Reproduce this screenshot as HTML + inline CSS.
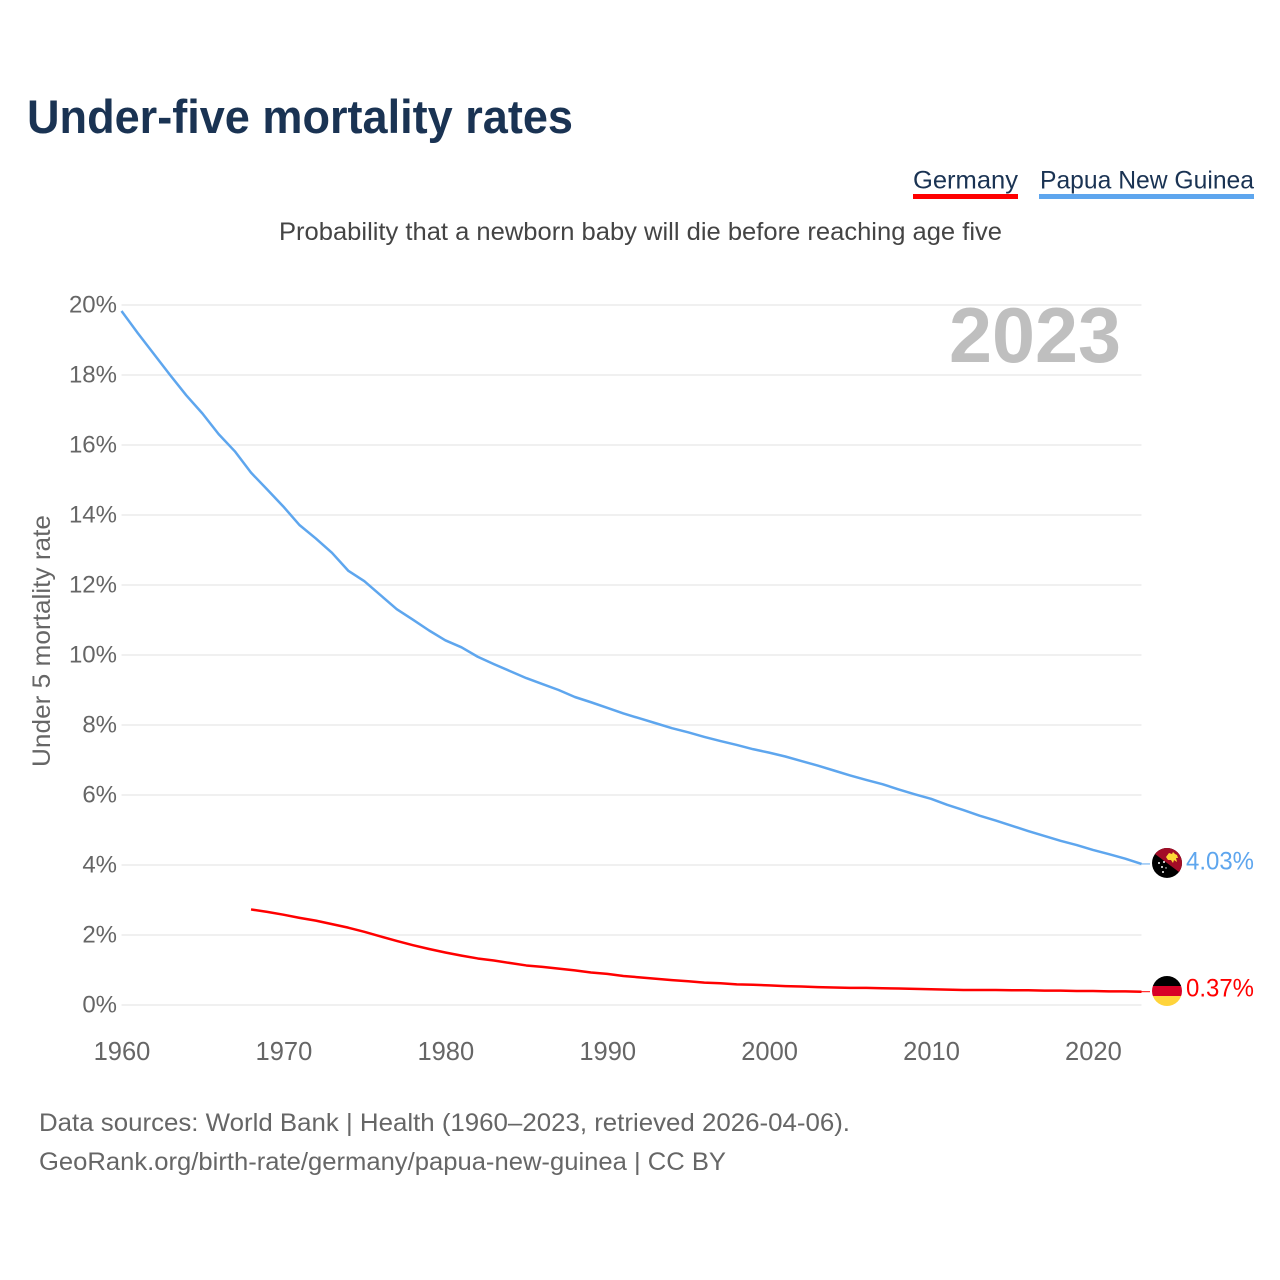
<!DOCTYPE html>
<html lang="en">
<head>
<meta charset="utf-8">
<title>Under-five mortality rates</title>
<style>
html,body{margin:0;padding:0;background:#fff;}
svg{display:block;font-family:"Liberation Sans",sans-serif;}
</style>
</head>
<body>
<svg id="chart" xmlns="http://www.w3.org/2000/svg" width="1280" height="1280" viewBox="0 0 1280 1280">
  <text x="27" y="133" font-size="47" font-weight="700" fill="#1a3353" textLength="546" lengthAdjust="spacingAndGlyphs">Under-five mortality rates</text>
  <g>
    <text x="913" y="188.5" font-size="25" fill="#1a3353" textLength="105" lengthAdjust="spacingAndGlyphs">Germany</text>
    <rect x="913" y="194" width="105" height="5" fill="#ff0000"/>
  </g>
  <g>
    <text x="1040" y="188.5" font-size="25" fill="#1a3353" textLength="214" lengthAdjust="spacingAndGlyphs">Papua New Guinea</text>
    <rect x="1039" y="194" width="215" height="5" fill="#5ea6ee"/>
  </g>
  <text x="279" y="240" font-size="25" fill="#444444" textLength="723" lengthAdjust="spacingAndGlyphs">Probability that a newborn baby will die before reaching age five</text>
  <text transform="translate(50,767) rotate(-90)" font-size="25" fill="#666666" textLength="252" lengthAdjust="spacingAndGlyphs">Under 5 mortality rate</text>
  <g id="grid"></g>
  <g id="yticks"></g>
  <g id="xticks"></g>
  <text x="949" y="362" font-size="78" font-weight="700" fill="#bfbfbf" textLength="172" lengthAdjust="spacingAndGlyphs">2023</text>
  <g id="series"></g>
  <defs>
    <clipPath id="flagClip"><circle cx="0" cy="0" r="15"/></clipPath>
  </defs>
  <g id="flagPng">
    <g clip-path="url(#flagClip)">
      <rect x="-15" y="-15" width="30" height="30" fill="#000000"/>
      <polygon points="-20,-15 20,-15 20,15" fill="#a30d27"/>
      <polygon points="-1,-6 2,-10 5,-9 6,-11 8,-9 10,-8 11,-5 9,-5 10,-1 7,-3 6,0 4,-3 1,-3" fill="#fdd835"/>
      <circle cx="-8" cy="0" r="1" fill="#fff"/>
      <circle cx="-3" cy="-1" r="1" fill="#fff"/>
      <circle cx="-5" cy="4" r="1" fill="#fff"/>
      <circle cx="-4" cy="9" r="1" fill="#fff"/>
      <circle cx="-1" cy="5" r="0.7" fill="#fff"/>
    </g>
  </g>
  <g id="flagDeu">
    <g clip-path="url(#flagClip)">
      <rect x="-15" y="-15" width="30" height="10" fill="#000000"/>
      <rect x="-15" y="-5" width="30" height="10" fill="#d80027"/>
      <rect x="-15" y="5" width="30" height="10" fill="#ffd43b"/>
    </g>
  </g>
  <g id="endLabels"></g>
  <text x="39" y="1131" font-size="25" fill="#666666" textLength="811" lengthAdjust="spacingAndGlyphs">Data sources: World Bank | Health (1960–2023, retrieved 2026-04-06).</text>
  <text x="39" y="1170" font-size="25" fill="#666666" textLength="687" lengthAdjust="spacingAndGlyphs">GeoRank.org/birth-rate/germany/papua-new-guinea | CC BY</text>
</svg>
<script>
const pngYears = [1960,1961,1962,1963,1964,1965,1966,1967,1968,1969,1970,1971,1972,1973,1974,1975,1976,1977,1978,1979,1980,1981,1982,1983,1984,1985,1986,1987,1988,1989,1990,1991,1992,1993,1994,1995,1996,1997,1998,1999,2000,2001,2002,2003,2004,2005,2006,2007,2008,2009,2010,2011,2012,2013,2014,2015,2016,2017,2018,2019,2020,2021,2022,2023];
const pngValues = [19.83,19.2,18.6,18.0,17.42,16.9,16.31,15.82,15.21,14.73,14.24,13.71,13.33,12.92,12.41,12.11,11.71,11.31,11.01,10.7,10.42,10.22,9.95,9.74,9.54,9.34,9.17,9.0,8.8,8.65,8.49,8.33,8.19,8.05,7.91,7.79,7.66,7.54,7.43,7.31,7.21,7.1,6.97,6.84,6.7,6.56,6.43,6.31,6.16,6.02,5.89,5.72,5.57,5.41,5.27,5.12,4.97,4.83,4.69,4.57,4.43,4.31,4.18,4.03];
const germanyYears = [1968,1969,1970,1971,1972,1973,1974,1975,1976,1977,1978,1979,1980,1981,1982,1983,1984,1985,1986,1987,1988,1989,1990,1991,1992,1993,1994,1995,1996,1997,1998,1999,2000,2001,2002,2003,2004,2005,2006,2007,2008,2009,2010,2011,2012,2013,2014,2015,2016,2017,2018,2019,2020,2021,2022,2023];
const germanyValues = [2.73,2.66,2.58,2.49,2.41,2.31,2.21,2.09,1.96,1.83,1.71,1.6,1.5,1.41,1.33,1.27,1.2,1.13,1.09,1.04,0.99,0.93,0.89,0.83,0.79,0.75,0.71,0.68,0.64,0.62,0.59,0.58,0.56,0.54,0.53,0.51,0.5,0.49,0.49,0.48,0.47,0.46,0.45,0.44,0.43,0.43,0.43,0.42,0.42,0.41,0.41,0.4,0.4,0.39,0.39,0.38];
const yTickValues = [0,2,4,6,8,10,12,14,16,18,20];
const yTickLabels = ["0%","2%","4%","6%","8%","10%","12%","14%","16%","18%","20%"];
const xTickValues = [1960,1970,1980,1990,2000,2010,2020];
const xTickLabels = ["1960","1970","1980","1990","2000","2010","2020"];
const endValueLabels = ["4.03%","0.37%"];

const SVG_NS = "http://www.w3.org/2000/svg";
const xLeft = 121.5, xRight = 1141.5, yZero = 1005, yTop = 305;
function xScale(year){ return xLeft + (year - 1960) * (xRight - xLeft) / (2023 - 1960); }
function yScale(v){ return yZero - v * (yZero - yTop) / 20; }
function linePath(years, values){
  return values.map(function(v,i){ return (i ? "L" : "M") + xScale(years[i]).toFixed(2) + " " + yScale(v).toFixed(2); }).join("");
}

const gridGroup = document.getElementById("grid");
const yTickGroup = document.getElementById("yticks");
yTickValues.forEach(function(v,i){
  const gl = document.createElementNS(SVG_NS,"line");
  gl.setAttribute("x1", xLeft);
  gl.setAttribute("x2", xRight);
  gl.setAttribute("y1", yScale(v));
  gl.setAttribute("y2", yScale(v));
  gl.setAttribute("stroke", "#ececec");
  gl.setAttribute("stroke-width", "1.6");
  
  
  gridGroup.appendChild(gl);
  const t = document.createElementNS(SVG_NS,"text");
  t.setAttribute("x", 117);
  t.setAttribute("y", yScale(v) + 7.5);
  t.setAttribute("text-anchor", "end");
  t.setAttribute("font-size", "24");
  t.setAttribute("fill", "#666666");
  t.textContent = yTickLabels[i];
  
  
  yTickGroup.appendChild(t);
});

const xTickGroup = document.getElementById("xticks");
xTickValues.forEach(function(v,i){
  const t = document.createElementNS(SVG_NS,"text");
  t.setAttribute("x", xScale(v) + 0.5);
  t.setAttribute("y", 1060);
  t.setAttribute("text-anchor", "middle");
  t.setAttribute("font-size", "25.5");
  t.setAttribute("fill", "#666666");
  t.textContent = xTickLabels[i];
  
  
  xTickGroup.appendChild(t);
});

const seriesGroup = document.getElementById("series");
const pngLine = document.createElementNS(SVG_NS,"path");
pngLine.setAttribute("d", linePath(pngYears, pngValues));
pngLine.setAttribute("fill", "none");
pngLine.setAttribute("stroke", "#5ea6ee");
pngLine.setAttribute("stroke-width", "2.5");
pngLine.setAttribute("stroke-linejoin", "round");


seriesGroup.appendChild(pngLine);

const deLine = document.createElementNS(SVG_NS,"path");
deLine.setAttribute("d", linePath(germanyYears, germanyValues));
deLine.setAttribute("fill", "none");
deLine.setAttribute("stroke", "#ff0000");
deLine.setAttribute("stroke-width", "2.5");
deLine.setAttribute("stroke-linejoin", "round");


seriesGroup.appendChild(deLine);

const pngLast = yScale(pngValues[pngValues.length - 1]);
const deLast = yScale(germanyValues[germanyValues.length - 1]);

const pngConn = document.createElementNS(SVG_NS,"line");
pngConn.setAttribute("x1", xRight);
pngConn.setAttribute("x2", 1150);
pngConn.setAttribute("y1", pngLast);
pngConn.setAttribute("y2", pngLast);
pngConn.setAttribute("stroke", "#5ea6ee");
pngConn.setAttribute("stroke-width", "1");


seriesGroup.appendChild(pngConn);

const deConn = document.createElementNS(SVG_NS,"line");
deConn.setAttribute("x1", xRight);
deConn.setAttribute("x2", 1150);
deConn.setAttribute("y1", deLast);
deConn.setAttribute("y2", deLast);
deConn.setAttribute("stroke", "#ff0000");
deConn.setAttribute("stroke-width", "1");


seriesGroup.appendChild(deConn);

document.getElementById("flagPng").setAttribute("transform", "translate(1167," + (pngLast - 1) + ")");
document.getElementById("flagDeu").setAttribute("transform", "translate(1167," + (deLast - 0.7) + ")");

const endGroup = document.getElementById("endLabels");
const pngLabel = document.createElementNS(SVG_NS,"text");
pngLabel.setAttribute("x", 1186);
pngLabel.setAttribute("y", pngLast + 5.5);
pngLabel.setAttribute("font-size", "25");
pngLabel.setAttribute("fill", "#5ea6ee");
pngLabel.setAttribute("textLength", "68");
pngLabel.setAttribute("lengthAdjust", "spacingAndGlyphs");
pngLabel.textContent = endValueLabels[0];


endGroup.appendChild(pngLabel);

const deLabel = document.createElementNS(SVG_NS,"text");
deLabel.setAttribute("x", 1186);
deLabel.setAttribute("y", deLast + 5);
deLabel.setAttribute("font-size", "25");
deLabel.setAttribute("fill", "#ff0000");
deLabel.setAttribute("textLength", "68");
deLabel.setAttribute("lengthAdjust", "spacingAndGlyphs");
deLabel.textContent = endValueLabels[1];


endGroup.appendChild(deLabel);
</script>
</body>
</html>
